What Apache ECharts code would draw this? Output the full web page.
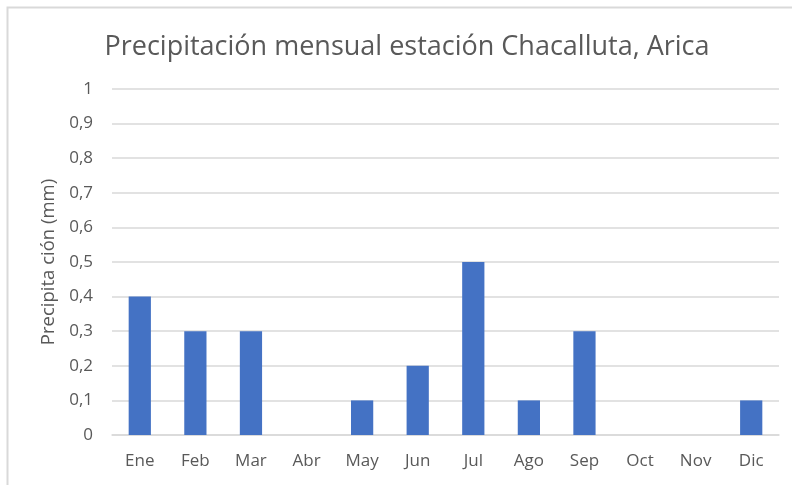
<!DOCTYPE html>
<html><head><meta charset="utf-8">
<script src="https://cdn.jsdelivr.net/npm/echarts@6/dist/echarts.min.js"></script>
<style>html,body{margin:0;padding:0;background:#fff}#c{width:792px;height:485px}</style>
</head><body><div id="c"></div>
<script>
const categories = ['Ene','Feb','Mar','Abr','May','Jun','Jul','Ago','Sep','Oct','Nov','Dic'];
const precipitation = [0.4,0.3,0.3,0,0.1,0.2,0.5,0.1,0.3,0,0,0.1];
const titleText = 'Precipitación mensual estación Chacalluta, Arica';
const yAxisTitle = 'Precipita ción (mm)';

const chart = echarts.init(document.getElementById('c'), null, {renderer:'canvas'});
const font = '"Open Sans", sans-serif';
chart.setOption({
  animation:false,
  textStyle:{fontFamily:font},
  graphic:[{type:'rect',shape:{x:7.5,y:7.5,width:800,height:500},style:{fill:'none',stroke:'#d9d9d9',lineWidth:2},z:-1}],
  title:{text:titleText,left:402,textAlign:'center',top:29,textStyle:{fontFamily:font,fontSize:27,fontWeight:'normal',color:'#595959'}},
  grid:{left:112,right:13,top:89,bottom:50},
  xAxis:{type:'category',data:categories,
    axisLine:{lineStyle:{color:'#d9d9d9',width:1.5}},axisTick:{show:false},
    axisLabel:{color:'#595959',fontSize:17,margin:18,fontFamily:font}},
  yAxis:{type:'value',min:0,max:1,interval:0.1,
    name:yAxisTitle,nameLocation:'middle',nameGap:53,
    nameTextStyle:{color:'#595959',fontSize:18.5,fontFamily:font},
    axisLine:{show:false},axisTick:{show:false},
    splitLine:{lineStyle:{color:'#d9d9d9',width:1.5}},
    axisLabel:{color:'#595959',fontSize:17,margin:19,fontFamily:font,
      formatter:v=>String(Math.round(v*10)/10).replace('.',',')}},
  series:[{type:'bar',data:precipitation,barWidth:'40%',itemStyle:{color:'#4472C4'}}]
});
</script></body></html>
